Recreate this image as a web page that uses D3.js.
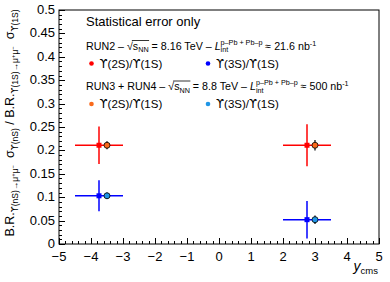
<!DOCTYPE html>
<html>
<head>
<meta charset="utf-8">
<script src="https://cdn.jsdelivr.net/npm/d3@7"></script>
<style>
  body { margin: 0; background: #fff; }
  svg { display: block; }
  text { font-family: "Liberation Sans", Arial, sans-serif; fill: #000; white-space: pre; }
  .ups { font-family: "DejaVu Sans", sans-serif; }
</style>
</head>
<body>
<svg id="chart" width="390" height="282"></svg>
<script>
// rapidity bins (RUN2 points sit at bin centre, RUN3+RUN4 shifted right)
var run2Rapidity = [-3.75, 2.75];
var run2RapidityErr = [0.75, 0.75];
var run34Rapidity = [-3.5, 3.0];

var run2Ratio2S = [0.211, 0.211];
var run2Err2S = [0.04, 0.045];
var run2Ratio3S = [0.103, 0.052];
var run2Err3S = [0.033, 0.04];

var run34Ratio2S = [0.211, 0.211];
var run34Err2S = [0.0085, 0.011];
var run34Ratio3S = [0.103, 0.052];
var run34Err3S = [0.007, 0.009];

var xTicks = [-5, -4, -3, -2, -1, 0, 1, 2, 3, 4, 5];
var yTicks = [0, 0.05, 0.1, 0.15, 0.2, 0.25, 0.3, 0.35, 0.4, 0.45, 0.5];

var svg = d3.select('#chart');
var margin = {top: 10, right: 11, bottom: 38, left: 59},
    width = 390 - margin.left - margin.right,
    height = 282 - margin.top - margin.bottom;

var xScale = d3.scaleLinear().domain([-5, 5]).range([margin.left, margin.left + width]);
var yScale = d3.scaleLinear().domain([0, 0.5]).range([margin.top + height, margin.top]);

var red = '#ff0000', blue = '#0000ff', orange = '#f96a1c', azure = '#1f96e6';

// writes text into el, putting the upsilon glyphs in a font that draws them curly
function withUpsilon(el, str) {
    str.split(/(\u03d2)/).forEach(function(part) {
        if(!part) return;
        var t = el.append('tspan').text(part);
        if(part === '\u03d2') t.attr('class', 'ups');
    });
    return el;
}

// lays out a run of text pieces (sub/superscripts, stacked scripts, overline)
function rich(parent, x, y, segs, anchor) {
    var probe = parent.append('text');
    var cx = 0, prevStart = 0, prevW = 0, placed = [];
    segs.forEach(function(s) {
        probe.selectAll('*').remove();
        probe.text(null);
        withUpsilon(probe, s.t).style('font-size', s.s + 'px').style('font-style', s.i ? 'italic' : 'normal');
        var w = probe.node().getComputedTextLength();
        var start;
        if(s.stack) {
            start = prevStart;
            cx = prevStart + Math.max(prevW, w);
        } else {
            start = cx;
            cx += w;
        }
        prevStart = start;
        prevW = w;
        placed.push({seg: s, x: start, w: w});
    });
    probe.remove();
    var off = anchor === 'middle' ? -cx / 2 : (anchor === 'end' ? -cx : 0);
    var over = null;
    placed.forEach(function(p) {
        var t = parent.append('text')
            .attr('x', x + off + p.x)
            .attr('y', y - (p.seg.b || 0))
            .style('font-size', p.seg.s + 'px')
            .style('font-style', p.seg.i ? 'italic' : 'normal');
        withUpsilon(t, p.seg.t);
        if(p.seg.over) {
            if(!over) over = {x0: p.x, x1: p.x + p.w, top: p.seg.top};
            else over.x1 = p.x + p.w;
        }
    });
    if(over) {
        parent.append('line')
            .attr('x1', x + off + over.x0 - 1).attr('x2', x + off + over.x1 + 0.5)
            .attr('y1', y - over.top).attr('y2', y - over.top)
            .attr('stroke', '#000').attr('stroke-width', 0.8);
    }
    return cx;
}

// frame
svg.append('rect')
    .attr('x', margin.left).attr('y', margin.top)
    .attr('width', width).attr('height', height)
    .attr('fill', 'none').attr('stroke', '#000').attr('stroke-width', 1);

// ticks (ROOT style: inside, 5 secondary divisions)
var axes = svg.append('g').attr('stroke', '#000').attr('stroke-width', 1);
d3.range(-5, 5.001, 0.2).forEach(function(d) {
    var major = Math.abs(d - Math.round(d)) < 1e-6;
    var px = Math.round(xScale(d)) + 0.5;
    axes.append('line').attr('x1', px).attr('x2', px)
        .attr('y1', margin.top + height).attr('y2', margin.top + height - (major ? 6 : 3));
});
d3.range(0, 0.5001, 0.01).forEach(function(d) {
    var major = Math.abs(d / 0.05 - Math.round(d / 0.05)) < 1e-6;
    var py = Math.round(yScale(d)) + 0.5;
    axes.append('line').attr('y1', py).attr('y2', py)
        .attr('x1', margin.left).attr('x2', margin.left + (major ? 6 : 3));
});

svg.selectAll('.xlab').data(xTicks).enter().append('text')
    .attr('x', function(d) { return xScale(d); })
    .attr('y', margin.top + height + 17)
    .attr('text-anchor', 'middle')
    .style('font-size', '13px')
    .text(function(d) { return d < 0 ? '\u2212' + (-d) : d; });

svg.selectAll('.ylab').data(yTicks).enter().append('text')
    .attr('x', margin.left - 4)
    .attr('y', function(d) { return yScale(d) + 4; })
    .attr('text-anchor', 'end')
    .style('font-size', '13px')
    .text(function(d) { return d; });

// axis titles
rich(svg, 378, 271, [
    {t: 'y', s: 14, i: true},
    {t: 'cms', s: 9.5, b: -3}
], 'end');

var yTitle = svg.append('g').attr('transform', 'translate(13.5,123) rotate(-90)');
rich(yTitle, 0, 0, [
    {t: 'B.R.', s: 12.5},
    {t: '\u03d2(nS)\u2192\u03bc', s: 8.5, b: -4},
    {t: '+', s: 6, b: -1},
    {t: '\u03bc', s: 8.5, b: -4},
    {t: '\u2212', s: 6, b: -1},
    {t: '  \u03c3', s: 12.5},
    {t: '\u03d2(nS)', s: 8.5, b: -4},
    {t: ' / B.R.', s: 12.5},
    {t: '\u03d2(1S)\u2192\u03bc', s: 8.5, b: -4},
    {t: '+', s: 6, b: -1},
    {t: '\u03bc', s: 8.5, b: -4},
    {t: '\u2212', s: 6, b: -1},
    {t: '  \u03c3', s: 12.5},
    {t: '\u03d2(1S)', s: 8.5, b: -4}
], 'middle');

// legend
svg.append('text').attr('x', 86).attr('y', 26).style('font-size', '13px').text('Statistical error only');

function header(y, label, energy, lumi) {
    rich(svg, 86, y, [
        {t: label + ' \u2013 ', s: 10.7},
        {t: '\u221a', s: 10.7},
        {t: 's', s: 10.7, over: true, top: 9},
        {t: 'NN', s: 7.2, b: -2.5, over: true},
        {t: ' = ' + energy + ' TeV \u2013 ', s: 10.7},
        {t: 'L', s: 10.7, i: true},
        {t: 'p\u2013Pb + Pb\u2013p', s: 7.2, b: 5},
        {t: 'int', s: 7.2, b: -2.5, stack: true},
        {t: ' \u2248 ' + lumi + ' nb', s: 10.7},
        {t: '-1', s: 7.2, b: 4}
    ], 'start');
}
header(49.5, 'RUN2', '8.16', '21.6');
header(90, 'RUN3 + RUN4', '8.8', '500');

var legendRows = [
    {y: 63.5, items: [{c: red, x: 91.5, t: '\u03d2(2S)/\u03d2(1S)'}, {c: blue, x: 208, t: '\u03d2(3S)/\u03d2(1S)'}]},
    {y: 104, items: [{c: orange, x: 91.5, t: '\u03d2(2S)/\u03d2(1S)'}, {c: azure, x: 208, t: '\u03d2(3S)/\u03d2(1S)'}]}
];
legendRows.forEach(function(row) {
    row.items.forEach(function(it) {
        svg.append('circle').attr('cx', it.x).attr('cy', row.y).attr('r', 2.3).attr('fill', it.c);
        var t = svg.append('text').attr('x', it.x + 8).attr('y', row.y + 4).style('font-size', '11.5px');
        withUpsilon(t, it.t);
    });
});

// RUN2 points: full error crosses with square markers
function run2Series(ratio, err, colour) {
    var g = svg.append('g');
    run2Rapidity.forEach(function(x, i) {
        g.append('line')
            .attr('x1', xScale(x - run2RapidityErr[i])).attr('x2', xScale(x + run2RapidityErr[i]))
            .attr('y1', yScale(ratio[i])).attr('y2', yScale(ratio[i]))
            .attr('stroke', colour).attr('stroke-width', 1.5);
        g.append('line')
            .attr('x1', xScale(x)).attr('x2', xScale(x))
            .attr('y1', yScale(ratio[i] - err[i])).attr('y2', yScale(ratio[i] + err[i]))
            .attr('stroke', colour).attr('stroke-width', 1.5);
        g.append('rect')
            .attr('x', xScale(x) - 2.5).attr('y', yScale(ratio[i]) - 2.5)
            .attr('width', 5).attr('height', 5).attr('fill', colour);
    });
}
run2Series(run2Ratio2S, run2Err2S, red);
run2Series(run2Ratio3S, run2Err3S, blue);

// RUN3+RUN4 projections: outlined circles, black stat bars
function run34Series(ratio, err, colour) {
    var g = svg.append('g');
    run34Rapidity.forEach(function(x, i) {
        g.append('line')
            .attr('x1', xScale(x)).attr('x2', xScale(x))
            .attr('y1', yScale(ratio[i] - err[i])).attr('y2', yScale(ratio[i] + err[i]))
            .attr('stroke', '#000').attr('stroke-width', 1.2);
        g.append('circle')
            .attr('cx', xScale(x)).attr('cy', yScale(ratio[i])).attr('r', 3)
            .attr('fill', colour).attr('stroke', '#000').attr('stroke-width', 0.8);
    });
}
run34Series(run34Ratio2S, run34Err2S, orange);
run34Series(run34Ratio3S, run34Err3S, azure);
</script>
</body>
</html>
